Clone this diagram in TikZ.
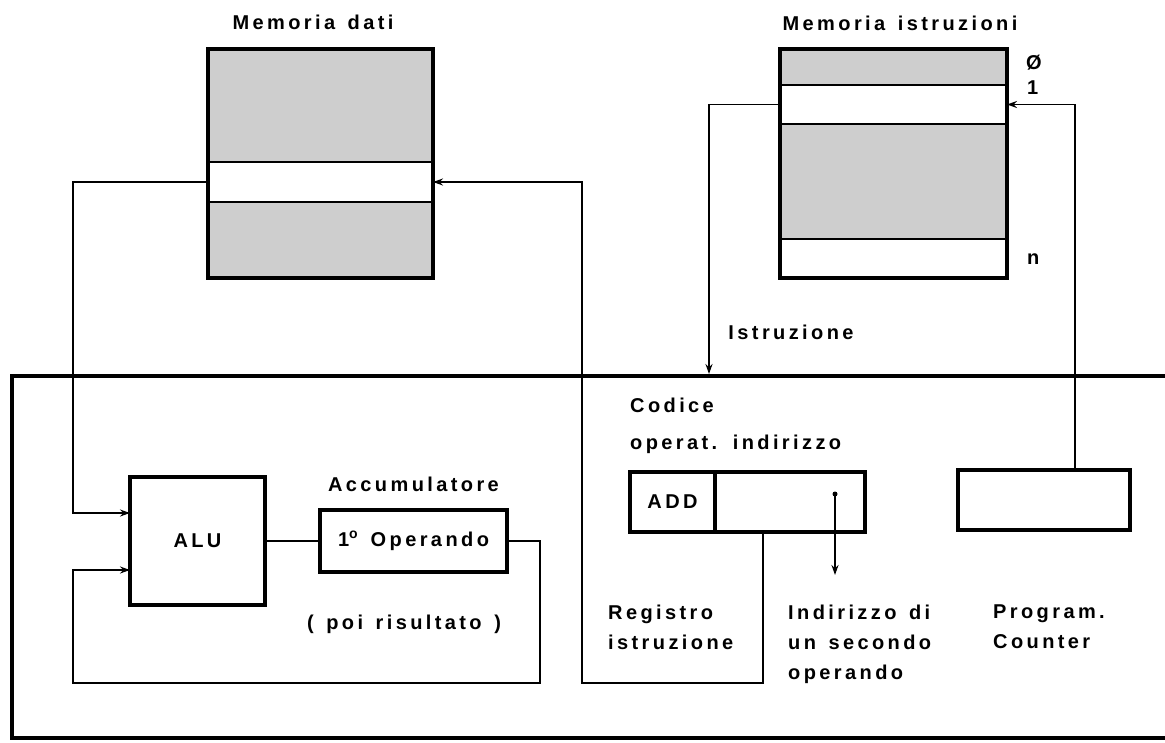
\documentclass[tikz,border=0pt]{standalone}
\usepackage{fontspec}
\setmainfont{Liberation Sans}[LetterSpace=17, WordSpace=1.4]
\usetikzlibrary{arrows.meta, positioning}

\definecolor{memgray}{RGB}{206,206,206}

\begin{document}
\begin{tikzpicture}[
        x=1pt, y=-1pt,
        font=\fontsize{20}{30}\selectfont\bfseries,
        cell/.style={rectangle, draw, line width=1.8pt, minimum width=225pt, inner sep=0pt, outer sep=0pt},
        unit/.style={rectangle, draw, line width=3.5pt, inner sep=0pt, outer sep=0pt},
        frame/.style={line width=3.5pt},
        txt/.style={inner sep=0pt, align=left},
        wire/.style={line width=1.8pt},
        arrow/.style={wire, -{Stealth[length=10pt, width=7pt]}}
        ]
        \useasboundingbox (0,0) rectangle (1165,742);

        % Memoria dati
        \node (dtop) [cell, fill=memgray, minimum height=113pt] at (320.5,105.5) {};
        \node (dmid) [cell, minimum height=40pt, below=0pt of dtop] {};
        \node (dbot) [cell, fill=memgray, minimum height=76pt, below=0pt of dmid] {};
        \draw [frame] (dtop.north west) rectangle (dbot.south east);
        \node (dtitle) [txt, anchor=base] at (313,29) {Memoria dati};

        % Memoria istruzioni
        \node (ifirst) [cell, minimum width=227pt, fill=memgray, minimum height=36pt] at (893.5,67) {};
        \node (isecond) [cell, minimum width=227pt, minimum height=39pt, below=0pt of ifirst] {};
        \node (ibody) [cell, minimum width=227pt, fill=memgray, minimum height=115pt, below=0pt of isecond] {};
        \node (ilast) [cell, minimum width=227pt, minimum height=39pt, below=0pt of ibody] {};
        \draw [frame] (ifirst.north west) rectangle (ilast.south east);
        \node (ititle) [txt, anchor=base] at (900,30) {Memoria istruzioni};
        \node (izero) [txt, anchor=base west] at (1026,69) {Ø};
        \node (ione) [txt, anchor=base west] at (1027,94) {1};
        \node (inum) [txt, anchor=base west] at (1027,264.5) {n};
        \node (instr) [txt, anchor=base] at (791,339) {Istruzione};

        % CPU
        \draw [frame] (1165,376) -| (12,738) -- (1165,738);

        % ALU e accumulatore
        \node (alu) [unit, minimum width=135pt, minimum height=128pt] at (197.5,541) {ALU};
        \node (acc) [unit, minimum width=187pt, minimum height=62pt, right=55pt of alu] {1\textsuperscript{o} Operando};
        \node (acclbl) [txt, above=18pt of acc] {Accumulatore};
        \node (acctxt) [txt, anchor=base] at (404,629) {( poi risultato )};

        % Registro istruzione e program counter
        \node (opc) [unit, minimum width=85pt, minimum height=60pt] at (672.5,502) {ADD};
        \node (addr) [unit, minimum width=150pt, minimum height=60pt, right=0pt of opc] {};
        \node (pc) [unit, minimum width=172pt, minimum height=60pt] at (1044,500) {};
        \node (irlbl) [txt, anchor=north west] at (630,398) {Codice\\[7pt]operat. indirizzo};
        \node (reglbl) [txt, anchor=north west] at (608,605) {Registro\\istruzione};
        \node (addrlbl) [txt, anchor=north west] at (788,605) {Indirizzo di\\un secondo\\operando};
        \node (pclbl) [txt, anchor=north west] at (993,605) {Program.\\Counter};

        % Collegamenti
        \coordinate (lloop) at (73,683);
        \coordinate (rloop) at (582,683);
        \coordinate (cpuin) at (709,374);
        \coordinate (adot) at (835,494);
        \coordinate (aend) at (835,575);

        \draw [arrow] (dmid.west) -- ++(-135pt,0) |- ([yshift=28pt]alu.west);
        \draw [arrow] (acc.east) -- ++(33pt,0) |- (lloop) |- ([yshift=-29pt]alu.west);
        \draw [wire] (alu) -- (acc);
        \draw [arrow] ([xshift=-27pt]addr.south) |- (rloop) |- (dmid.east);
        \draw [arrow] (isecond.west) -| (cpuin);
        \draw [arrow] ([xshift=31pt]pc.north) |- (isecond.east);
        \draw [arrow] (adot) -- (aend);
        \fill (adot) circle (2.5pt);

    \end{tikzpicture}
\end{document}
